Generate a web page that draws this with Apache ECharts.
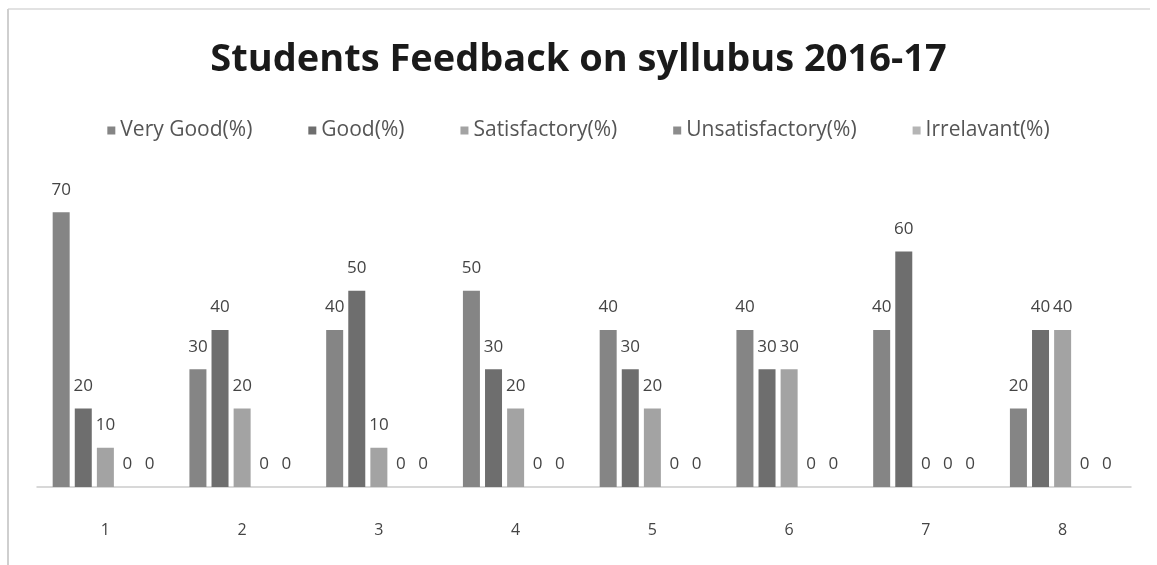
<!DOCTYPE html>
<html>
<head>
<meta charset="utf-8">
<script src="https://cdn.jsdelivr.net/npm/echarts@6/dist/echarts.min.js"></script>
<style>
html,body{margin:0;padding:0;background:#fff;}
#chart{width:1157px;height:565px;}
</style>
</head>
<body>
<div id="chart"></div>
<script>
const categories = ['1','2','3','4','5','6','7','8'];
const seriesNames = ['Very Good(%)','Good(%)','Satisfactory(%)','Unsatisfactory(%)','Irrelavant(%)'];
const veryGood = [70,30,40,50,40,40,40,20];
const good = [20,40,50,30,30,30,60,40];
const satisfactory = [10,20,10,20,20,30,0,40];
const unsatisfactory = [0,0,0,0,0,0,0,0];
const irrelavant = [0,0,0,0,0,0,0,0];
const seriesData = [veryGood, good, satisfactory, unsatisfactory, irrelavant];
const colors = ['#858585','#6e6e6e','#a3a3a3','#8c8c8c','#b5b5b5'];

const chart = echarts.init(document.getElementById('chart'), null, {renderer:'canvas'});
const fontFam = '"Open Sans", "Liberation Sans", sans-serif';
chart.setOption({
  animation:false,
  backgroundColor:'#ffffff',
  color: colors,
  title:{
    text:'Students Feedback on syllubus 2016-17',
    left:'center', top:36,
    textStyle:{fontFamily:fontFam, fontWeight:'bold', fontSize:38, color:'#1a1a1a'}
  },
  legend:{
    top:115, left:'center',
    itemWidth:8, itemHeight:8, itemGap:56,
    icon:'rect',
    textStyle:{fontFamily:fontFam, fontSize:21, color:'#555'},
    data: seriesNames
  },
  grid:{left:37, right:26, top:173, bottom:78, containLabel:false},
  xAxis:{
    type:'category', data:categories,
    axisLine:{lineStyle:{color:'#cccccc', width:1.5}},
    axisTick:{show:false},
    axisLabel:{margin:35, fontFamily:fontFam, fontSize:16, color:'#444'}
  },
  yAxis:{type:'value', min:0, max:80, show:false, splitLine:{show:false}},
  graphic:[
    {type:'line', shape:{x1:8,y1:9,x2:1150,y2:9}, style:{stroke:'#d8d8d8', lineWidth:1.5}},
    {type:'line', shape:{x1:8,y1:9,x2:8,y2:565}, style:{stroke:'#cfcfcf', lineWidth:2}}
  ],
  series: seriesNames.map((n,i)=>({
    name:n, type:'bar', data:seriesData[i],
    barWidth:17, barGap:'30%', barCategoryGap:'23%',
    label:{show:true, position:'top', distance:14, fontFamily:fontFam, fontSize:17, color:'#444'}
  }))
});
</script>
</body>
</html>
